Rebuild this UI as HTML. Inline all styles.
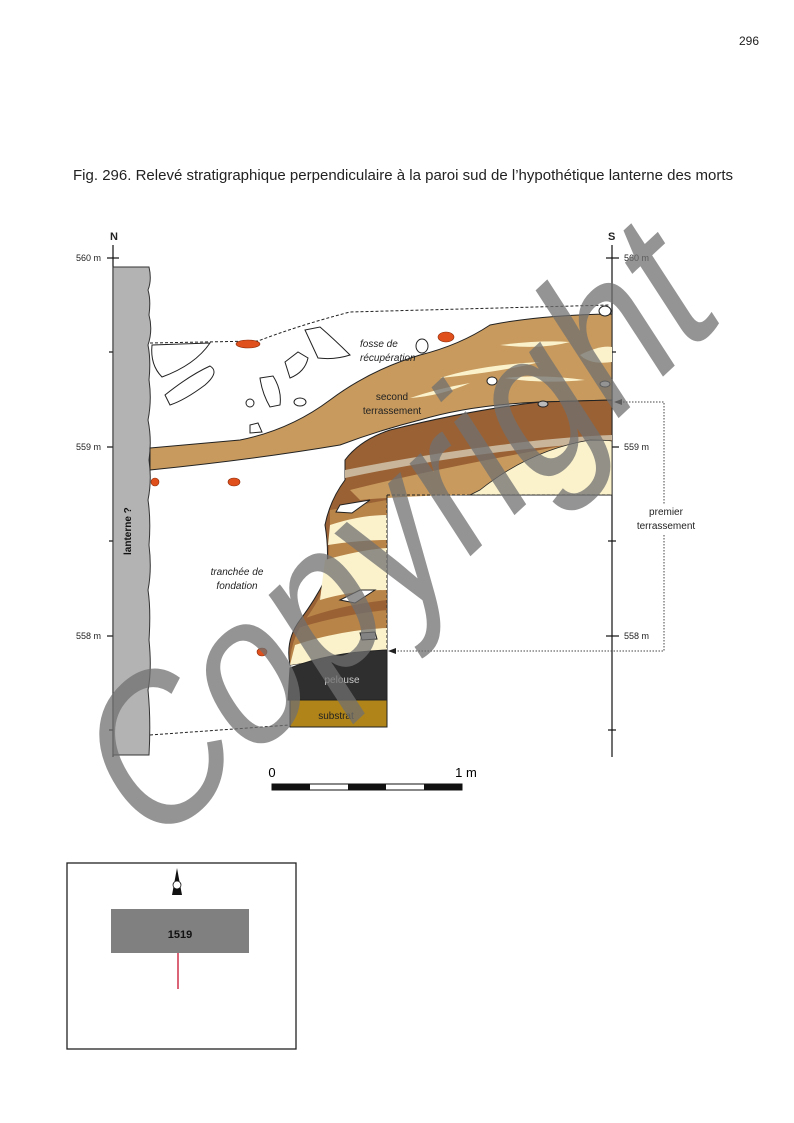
<!DOCTYPE html>
<html><head><meta charset="utf-8"><style>
html,body{margin:0;padding:0;background:#fff;}
body{width:794px;height:1123px;position:relative;overflow:hidden;font-family:"Liberation Sans",sans-serif;}
</style></head><body>
<svg width="794" height="1123" viewBox="0 0 794 1123" xmlns="http://www.w3.org/2000/svg" style="position:absolute;left:0;top:0">
<text x="759" y="45" font-size="12" text-anchor="end" fill="#222">296</text>
<text x="73" y="180" font-size="14.3" fill="#222" textLength="660" lengthAdjust="spacingAndGlyphs">Fig. 296. Relevé stratigraphique perpendiculaire à la paroi sud de l’hypothétique lanterne des morts</text>

<!-- axes -->
<g stroke="#111" stroke-width="1.2">
<line x1="113" y1="245" x2="113" y2="757"/>
<line x1="612" y1="245" x2="612" y2="757"/>
<line x1="107" y1="258" x2="119" y2="258"/><line x1="107" y1="447" x2="119" y2="447"/><line x1="107" y1="636" x2="119" y2="636"/>
<line x1="109" y1="352" x2="117" y2="352"/><line x1="109" y1="541" x2="117" y2="541"/><line x1="109" y1="730" x2="117" y2="730"/>
<line x1="606" y1="258" x2="619" y2="258"/><line x1="606" y1="447" x2="619" y2="447"/><line x1="606" y1="636" x2="619" y2="636"/>
<line x1="608" y1="352" x2="616" y2="352"/><line x1="608" y1="541" x2="616" y2="541"/><line x1="608" y1="730" x2="616" y2="730"/>
</g>
<g font-size="9" fill="#222">
<text x="110" y="240" font-weight="bold" font-size="11">N</text>
<text x="608" y="240" font-weight="bold" font-size="11">S</text>
<text x="76" y="261">560 m</text><text x="76" y="450">559 m</text><text x="76" y="639">558 m</text>
<text x="624" y="261">560 m</text><text x="624" y="450">559 m</text><text x="624" y="639">558 m</text>
</g>

<!-- wall -->
<path d="M113,267 L149,267 Q152,280 148,290 Q151,300 149,315 Q153,330 148,345 Q151,360 149,380 Q152,400 148,420 Q152,440 149,460 Q152,480 148,500 Q151,520 149,545 Q152,570 148,590 Q151,610 149,640 Q152,670 148,690 Q151,720 149,755 L113,755 Z" fill="#b3b3b3" stroke="#333" stroke-width="1"/>
<text transform="translate(131,555) rotate(-90)" font-size="10" font-weight="bold" fill="#111">lanterne ?</text>

<!-- dashed lines -->
<path d="M150,343 L258,341 Q300,325 350,312 L610,305" fill="none" stroke="#222" stroke-width="1" stroke-dasharray="3,2"/>
<path d="M150,735 L290,725" fill="none" stroke="#222" stroke-width="1" stroke-dasharray="3,2"/>

<!-- light brown layer -->
<path d="M150,448 L240,440 Q290,430 330,400 Q370,370 420,355 Q460,345 490,325 Q540,315 612,314 L612,400 L540,402 Q470,405 420,420 Q380,430 340,445 Q250,460 150,470 Z" fill="#c89a5d" stroke="#222" stroke-width="1"/>
<g fill="#fbf2cc">
<path d="M440,378 Q480,365 540,362 Q500,372 440,378Z"/>
<path d="M500,345 Q540,340 570,342 Q540,350 500,345Z"/>
<path d="M580,355 Q600,345 612,347 L612,362 Q590,365 580,355Z"/>
<path d="M410,398 Q440,388 470,383 Q440,396 410,398Z"/>
<path d="M505,378 Q540,374 585,380 Q540,384 505,378Z"/>
</g>
<!-- lower brown block -->
<path d="M345,460 Q360,440 390,430 Q470,410 540,402 L612,400 L612,495 L387,495 L387,650 L290,665 Q285,640 300,620 Q315,600 325,580 Q330,555 325,525 Q330,500 345,480 Z" fill="#9a6134" stroke="#222" stroke-width="1"/>
<path d="M345,470 Q420,455 500,445 Q560,437 612,435 L612,442 Q560,445 500,452 Q420,462 345,478Z" fill="#c8b59a"/>
<path d="M350,490 Q430,470 540,450 Q580,442 612,440 L612,495 L470,495 Q420,495 360,500 Z" fill="#c89a5d"/>
<path d="M480,490 Q530,450 590,440 Q605,440 612,441 L612,495 L470,495Z" fill="#fbf2cc" stroke="#222" stroke-width="0.8"/>
<path d="M330,510 Q360,505 387,500 L387,650 L290,665 Q290,640 305,620 Q320,600 327,580 Q330,550 330,510Z" fill="#b88448"/>
<path d="M330,525 Q360,515 387,515 L387,540 Q360,540 328,545Z" fill="#fbf2cc"/>
<path d="M325,560 Q360,550 387,548 L387,590 Q355,590 320,600Z" fill="#fbf2cc"/>
<path d="M295,645 Q340,630 387,628 L387,650 L290,665Z" fill="#fbf2cc"/>
<path d="M300,620 Q340,605 387,600 L387,610 Q340,615 298,628Z" fill="#9a6134"/>
<path d="M340,505 L370,500 L352,513 L336,512Z" fill="#fff" stroke="#222"/>
<path d="M340,600 L360,590 L375,590 L355,603Z" fill="#fff" stroke="#222"/>
<path d="M360,633 L375,632 L377,639 L362,640Z" fill="#bbb" stroke="#222"/>
<!-- pelouse & substrat -->
<path d="M290,668 Q330,652 387,650 L387,700 L288,700 Z" fill="#2f2f2f" stroke="#222"/>
<rect x="290" y="700" width="97" height="27" fill="#b08418" stroke="#222"/>
<path d="M387,495 L612,495" stroke="#222" stroke-dasharray="3,2"/>
<path d="M387,495 L387,727" stroke="#222" stroke-dasharray="3,2"/>
<text x="342" y="683" font-size="10" fill="#ccc" text-anchor="middle">pelouse</text>
<text x="336" y="719" font-size="10" fill="#222" text-anchor="middle">substrat</text>

<!-- stones -->
<g fill="#fff" stroke="#222" stroke-width="1">
<path d="M152,345 L210,343 Q195,365 162,377 Q150,365 152,345Z"/>
<path d="M165,395 Q190,375 210,366 Q220,372 205,385 Q185,400 170,405Z"/>
<path d="M305,330 L320,327 Q335,340 350,355 Q335,360 318,358Z"/>
<path d="M285,362 L298,352 L308,358 Q305,372 290,378 Z"/>
<path d="M260,378 L273,376 Q282,390 280,405 L270,407Q262,393 260,378Z"/>
<ellipse cx="300" cy="402" rx="6" ry="4"/>
<ellipse cx="250" cy="403" rx="4" ry="4"/>
<path d="M250,425 L258,423 L262,432 L250,433Z"/>
<ellipse cx="422" cy="346" rx="6" ry="7"/>
<ellipse cx="492" cy="381" rx="5" ry="4"/>
<ellipse cx="605" cy="311" rx="6" ry="5"/>
<ellipse cx="605" cy="384" rx="5" ry="3"/>
</g>
<ellipse cx="543" cy="404" rx="5" ry="3" fill="#bbb" stroke="#222"/>
<g fill="#e0501c" stroke="#8a2b0a" stroke-width="0.6">
<ellipse cx="248" cy="344" rx="12" ry="4"/>
<ellipse cx="446" cy="337" rx="8" ry="5"/>
<ellipse cx="155" cy="482" rx="4" ry="4"/>
<ellipse cx="234" cy="482" rx="6" ry="4"/>
<ellipse cx="262" cy="652" rx="5" ry="4"/>
</g>
<!-- labels -->
<g font-size="10" fill="#222">
<text x="360" y="347" font-style="italic">fosse de</text>
<text x="360" y="361" font-style="italic">récupération</text>
<text x="392" y="400" text-anchor="middle">second</text>
<text x="392" y="414" text-anchor="middle">terrassement</text>
<text x="237" y="575" font-style="italic" text-anchor="middle">tranchée de</text>
<text x="237" y="589" font-style="italic" text-anchor="middle">fondation</text>
<text x="666" y="515" text-anchor="middle">premier</text>
<text x="666" y="529" text-anchor="middle">terrassement</text>
</g>
<!-- dotted brackets -->
<path d="M620,402 L664,402 L664,505 M664,535 L664,651 L392,651" fill="none" stroke="#444" stroke-dasharray="1.5,1.5"/>
<path d="M614,402 L622,399 L622,405Z" fill="#222"/>
<path d="M388,651 L396,648 L396,654Z" fill="#222"/>

<!-- scale -->
<text x="272" y="777" font-size="13" text-anchor="middle">0</text>
<text x="466" y="777" font-size="13" text-anchor="middle">1 m</text>
<rect x="272" y="784" width="190" height="6" fill="#fff" stroke="#111"/>
<rect x="272" y="784" width="38" height="6" fill="#111"/>
<rect x="348" y="784" width="38" height="6" fill="#111"/>
<rect x="424" y="784" width="38" height="6" fill="#111"/>

<!-- inset -->
<rect x="67" y="863" width="229" height="186" fill="#fff" stroke="#222" stroke-width="1.3"/>
<path d="M177,868 L172,895 L182,895Z" fill="#111"/>
<circle cx="177" cy="885" r="4" fill="#fff" stroke="#111" stroke-width="0.8"/>
<rect x="111" y="909" width="138" height="44" fill="#808080"/>
<text x="180" y="938" font-size="11" font-weight="bold" text-anchor="middle" fill="#111">1519</text>
<line x1="178" y1="953" x2="178" y2="989" stroke="#c8102e" stroke-width="1.3"/>

<!-- watermark -->
<text transform="translate(150,855) rotate(-43) skewX(-10) scale(1,1.15)" font-size="180" fill="#707070" fill-opacity="0.75" font-family="Liberation Sans, sans-serif" textLength="780" lengthAdjust="spacingAndGlyphs">Copyright</text>
</svg>
</body></html>
